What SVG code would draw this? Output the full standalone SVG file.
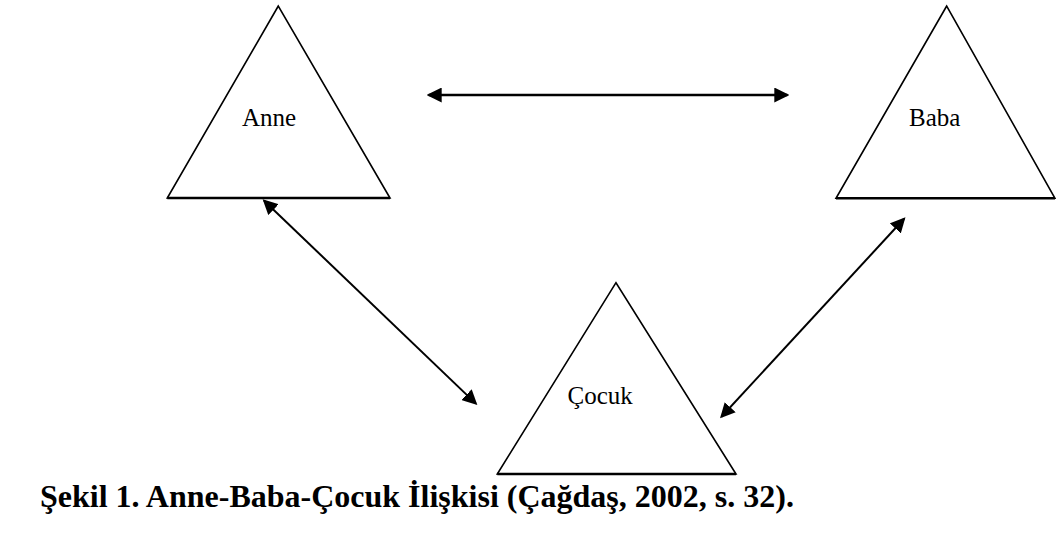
<svg xmlns="http://www.w3.org/2000/svg" width="1056" height="554" viewBox="0 0 1056 554">
<style>
.tri{fill:#ffffff;stroke:#000000;stroke-width:1.6;stroke-linejoin:miter}
.base{stroke:#000000;stroke-width:2.4}
.lbl{font-family:"Liberation Serif","Times New Roman",serif;font-size:25px;fill:#000000}
.cap{font-family:"Liberation Serif","Times New Roman",serif;font-size:32px;font-weight:bold;fill:#000000}
.con{stroke:#000000;fill:none;marker-start:url(#ah);marker-end:url(#ah)}
</style>
<defs>
<marker id="ah" markerUnits="userSpaceOnUse" markerWidth="15" markerHeight="15" viewBox="0 0 15 15" refX="13" refY="7.5" orient="auto-start-reverse">
<path d="M0,0 L15,7.5 L0,15 z" fill="#000000"/>
</marker>
</defs>
<rect x="0" y="0" width="1056" height="554" fill="#ffffff"/>
<g id="connectors">
<line class="con" x1="428.7" y1="95" x2="787.3" y2="95" stroke-width="2.5"/>
<line class="con" x1="264.1" y1="200.7" x2="475.9" y2="403.6" stroke-width="2"/>
<line class="con" x1="721.4" y1="416.8" x2="904.1" y2="218.8" stroke-width="2"/>
</g>
<g id="node-anne">
<polygon class="tri" points="278.3,6 167.3,198 390,198"/>
<line class="base" x1="167.3" y1="198" x2="390" y2="198"/>
<text class="lbl" x="242" y="126">Anne</text>
</g>
<g id="node-baba">
<polygon class="tri" points="946.7,6 836,198.3 1055,198.3"/>
<line class="base" x1="836" y1="198.3" x2="1055" y2="198.3"/>
<text class="lbl" x="909" y="126">Baba</text>
</g>
<g id="node-cocuk">
<polygon class="tri" points="616,282.7 497.3,474 736,474"/>
<line class="base" x1="497.3" y1="474" x2="736" y2="474"/>
<text class="lbl" x="567.6" y="404">Çocuk</text>
</g>
<g id="caption">
<text class="cap" x="40" y="507">Şekil 1. Anne-Baba-Çocuk İlişkisi (Çağdaş, 2002, s. 32).</text>
</g>
</svg>
